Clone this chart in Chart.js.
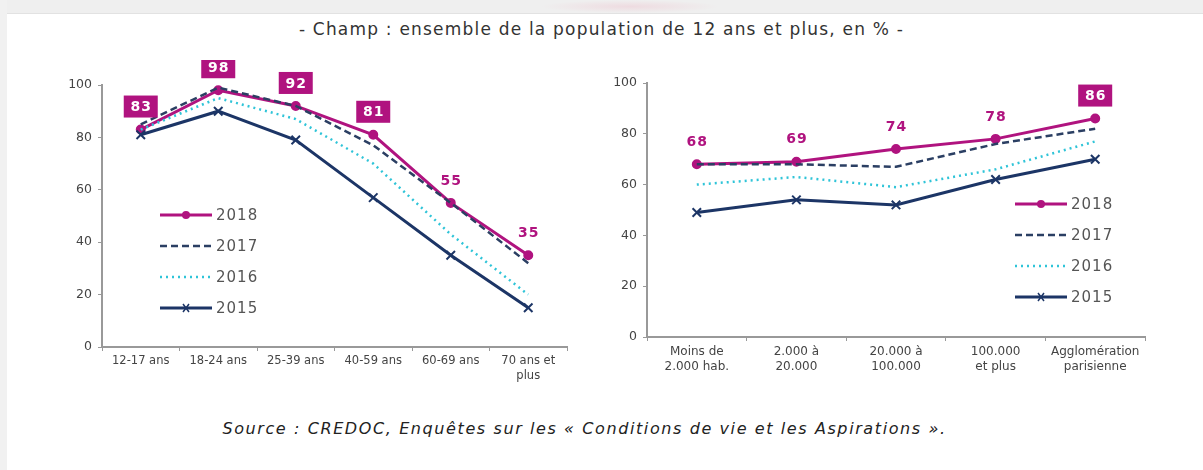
<!DOCTYPE html>
<html>
<head>
<meta charset="utf-8">
<script src="https://cdn.jsdelivr.net/npm/chart.js@4/dist/chart.umd.min.js"></script>
<style>
body { margin: 0; width: 1203px; height: 470px; background: #fff; position: relative; overflow: hidden; font-family: "DejaVu Sans", Verdana, sans-serif; }
#topband { position: absolute; left: 0; top: 0; width: 1203px; height: 13px; background: #efefef; border-bottom: 1px solid #e2e2e2; }
#blob { position: absolute; left: 540px; top: 0; width: 180px; height: 13px; background: radial-gradient(ellipse at center, rgba(235,160,180,0.25), rgba(239,239,239,0) 70%); }
#leftband { position: absolute; left: 0; top: 0; width: 7px; height: 470px; background: #f1f1f1; }
#title { position: absolute; left: 0; width: 1203px; top: 19px; text-align: center; font-size: 17px; letter-spacing: 1.2px; color: #333; }
#source { position: absolute; left: -17px; width: 1203px; top: 419px; text-align: center; font-size: 16px; letter-spacing: 1.6px; font-style: italic; color: #222; }
.box { position: absolute; }
</style>
</head>
<body>
<div id="topband"></div>
<div id="blob"></div>
<div id="leftband"></div>
<div id="title">- Champ : ensemble de la population de 12 ans et plus, en % -</div>
<div class="box" style="left:62px;top:60px;width:520px;height:332px"><canvas id="ageChart"></canvas></div>
<div class="box" style="left:607px;top:58px;width:553px;height:324px"><canvas id="villeChart"></canvas></div>
<div id="source">Source : CREDOC, Enquêtes sur les « Conditions de vie et les Aspirations ».</div>
<script>
var years = ['2018', '2017', '2016', '2015'];

var ageLabels = ['12-17 ans', '18-24 ans', '25-39 ans', '40-59 ans', '60-69 ans', ['70 ans et', 'plus']];
var age2018 = [83, 98, 92, 81, 55, 35];
var age2017 = [85, 99, 92, 77, 55, 32];
var age2016 = [83, 95, 87, 70, 43, 20];
var age2015 = [81, 90, 79, 57, 35, 15];
var ageBoxed = [true, true, true, true, false, false];

var villeLabels = [['Moins de', '2.000 hab.'], ['2.000 à', '20.000'], ['20.000 à', '100.000'], ['100.000', 'et plus'], ['Agglomération', 'parisienne']];
var ville2018 = [68, 69, 74, 78, 86];
var ville2017 = [68, 68, 67, 76, 82];
var ville2016 = [60, 63, 59, 66, 77];
var ville2015 = [49, 54, 52, 62, 70];
var villeBoxed = [false, false, false, false, true];

var yTicks = [0, 20, 40, 60, 80, 100];

var magenta = '#b0137f';
var navy = '#1c3566';
var dashNavy = '#2b3f63';
var cyan = '#2fc4d8';

var styles = [
    { color: magenta, dash: [], width: 3, point: 'circle', radius: 4 },
    { color: dashNavy, dash: [7, 4], width: 2.5, point: 'circle', radius: 0 },
    { color: cyan, dash: [2, 4], width: 2.5, point: 'circle', radius: 0 },
    { color: navy, dash: [], width: 3, point: 'crossRot', radius: 6 }
];

function makeDatasets(series) {
    var out = [];
    for (var i = series.length - 1; i >= 0; i--) {
        var s = styles[i];
        out.push({
            label: years[i],
            data: series[i],
            borderColor: s.color,
            backgroundColor: s.color,
            borderWidth: s.width,
            borderDash: s.dash,
            pointStyle: s.point,
            pointRadius: s.radius,
            pointBorderWidth: 2,
            pointHoverRadius: s.radius,
            tension: 0
        });
    }
    return out;
}

// labels above the 2018 line and the in-chart legend
var extrasPlugin = {
    id: 'extras',
    afterDatasetsDraw: function(chart, args, opts) {
        var ctx = chart.ctx;
        var meta = chart.getDatasetMeta(chart.data.datasets.length - 1);
        var vals = chart.data.datasets[chart.data.datasets.length - 1].data;
        ctx.save();
        ctx.font = 'bold 14px "DejaVu Sans", Verdana, sans-serif';
        ctx.letterSpacing = '1px';
        ctx.textAlign = 'center';
        ctx.textBaseline = 'middle';
        for (var i = 0; i < meta.data.length; i++) {
            var p = meta.data[i];
            var x = p.x, y = p.y - 23;
            if (opts.boxed[i]) {
                ctx.fillStyle = magenta;
                ctx.fillRect(x - 17, y - 11, 34, 22);
                ctx.fillStyle = '#fff';
            } else {
                ctx.fillStyle = magenta;
            }
            ctx.fillText(String(vals[i]), x + 0.5, y + 1);
        }

        var a = chart.chartArea;
        var lx = a.left + opts.legendX, ly = a.top + opts.legendY;
        ctx.font = '15px "DejaVu Sans", Verdana, sans-serif';
        ctx.letterSpacing = '1px';
        ctx.textAlign = 'left';
        for (var k = 0; k < years.length; k++) {
            var s = styles[k];
            var yy = ly + k * 31;
            ctx.strokeStyle = s.color;
            ctx.lineWidth = s.width;
            ctx.setLineDash(s.dash);
            ctx.beginPath();
            ctx.moveTo(lx, yy);
            ctx.lineTo(lx + 52, yy);
            ctx.stroke();
            ctx.setLineDash([]);
            if (k == 0) {
                ctx.fillStyle = s.color;
                ctx.beginPath();
                ctx.arc(lx + 26, yy, 4, 0, Math.PI * 2);
                ctx.fill();
            }
            if (k == 3) {
                ctx.lineWidth = 1.5;
                ctx.beginPath();
                ctx.moveTo(lx + 23, yy - 4); ctx.lineTo(lx + 29, yy + 4);
                ctx.moveTo(lx + 29, yy - 4); ctx.lineTo(lx + 23, yy + 4);
                ctx.stroke();
            }
            ctx.fillStyle = '#555';
            ctx.fillText(years[k], lx + 56, yy + 1);
        }
        ctx.restore();
    }
};

function makeChart(id, labels, series, boxed, legendX, legendY, xFont) {
    return new Chart(document.getElementById(id), {
        type: 'line',
        data: { labels: labels, datasets: makeDatasets(series) },
        plugins: [extrasPlugin],
        options: {
            responsive: true,
            maintainAspectRatio: false,
            animation: false,
            layout: { padding: { top: 25, right: 15, left: 0, bottom: 0 } },
            scales: {
                x: {
                    offset: true,
                    grid: { display: true, drawOnChartArea: false, tickLength: 4, color: '#999', offset: true },
                    border: { color: '#999', width: 2 },
                    ticks: { color: '#444', font: { size: xFont, family: '"DejaVu Sans", Verdana, sans-serif', lineHeight: 1.25 }, maxRotation: 0, autoSkip: false, padding: 3 },
                    afterFit: function(s) { s.height = 45; }
                },
                y: {
                    min: 0,
                    max: 100,
                    afterBuildTicks: function(s) { s.ticks = yTicks.map(function(v) { return { value: v }; }); },
                    grid: { display: true, drawOnChartArea: false, tickLength: 4, color: '#999' },
                    border: { color: '#999', width: 2 },
                    ticks: { color: '#444', font: { size: 12.5, family: '"DejaVu Sans", Verdana, sans-serif' }, padding: 6 },
                    afterFit: function(s) { s.width = 40; }
                }
            },
            plugins: {
                legend: { display: false },
                tooltip: { enabled: false },
                extras: { boxed: boxed, legendX: legendX, legendY: legendY }
            }
        }
    });
}

makeChart('ageChart', ageLabels, [age2018, age2017, age2016, age2015], ageBoxed, 58, 130, 11.5);
makeChart('villeChart', villeLabels, [ville2018, ville2017, ville2016, ville2015], villeBoxed, 368, 121, 12);
</script>
</body>
</html>
